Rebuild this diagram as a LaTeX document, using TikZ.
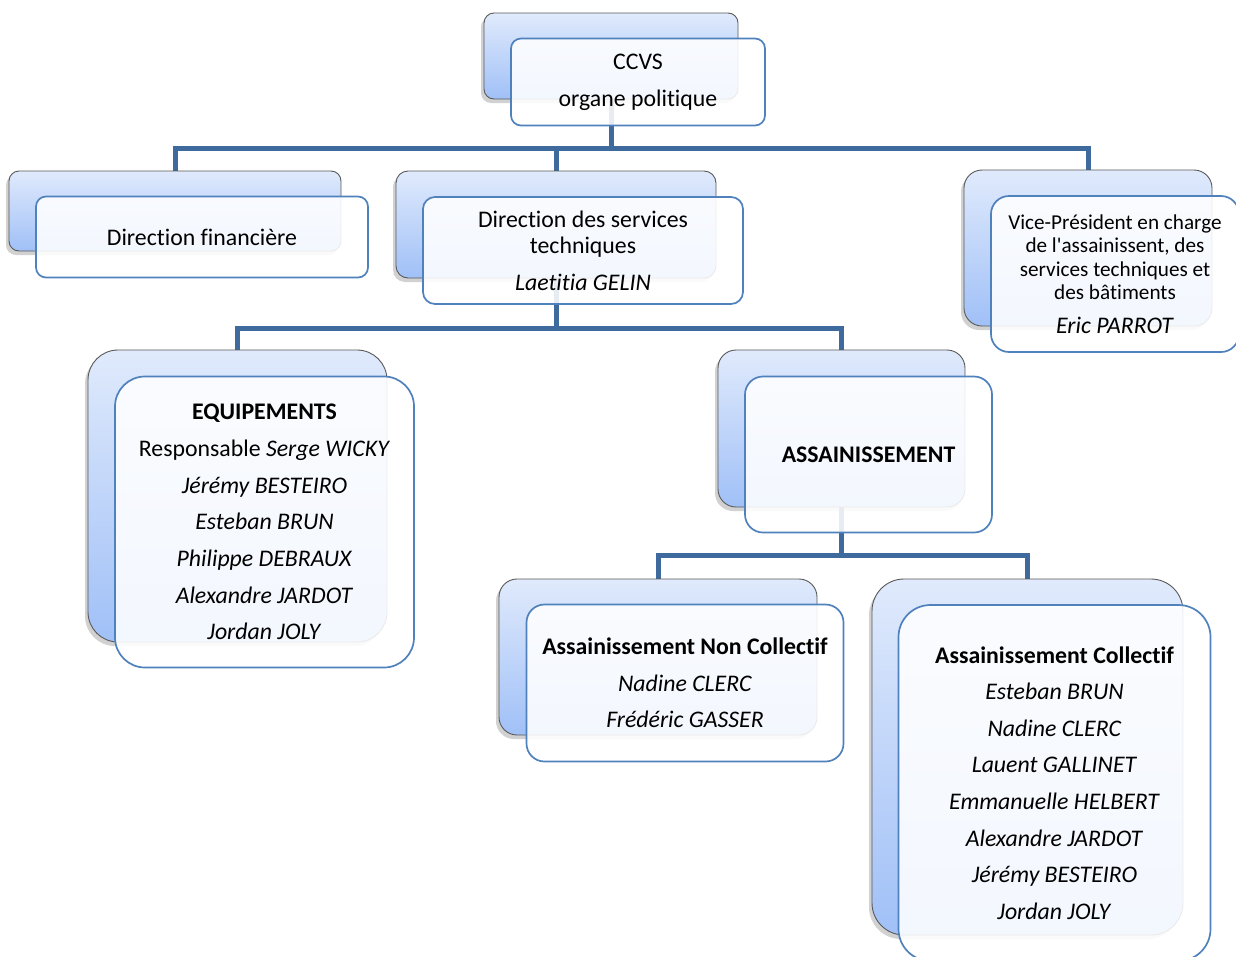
\documentclass[tikz,border=0pt]{standalone}
\usepackage{fontspec}
\setmainfont{Carlito}[Ligatures=NoCommon]
\usetikzlibrary{calc,shadows,backgrounds}

\definecolor{boxblue}{RGB}{79,129,189}
\definecolor{linkblue}{RGB}{62,106,158}
\definecolor{shadetop}{RGB}{224,234,252}
\definecolor{shadebot}{RGB}{160,192,247}

\tikzset{
  backbox/.style={draw=gray!70!black, line width=0.9, rounded corners=#1,
    top color=shadetop, bottom color=shadebot, inner sep=0, outer sep=0,
    drop shadow={shadow xshift=-3pt, shadow yshift=-4pt, opacity=0.3, fill=black!60}},
  frontbox/.style={draw=boxblue, line width=1.7, rounded corners=#1,
    fill=white, fill opacity=0.88, text opacity=1, inner sep=0, outer sep=0,
    align=center, font=\fontsize{23.8}{26}\selectfont},
  link/.style={draw=linkblue, line width=5},
}

\begin{document}
\begin{tikzpicture}[x=1pt, y=-1pt]
\useasboundingbox (0,0) rectangle (1236,956);
\pgfmathsetmacro{\DX}{27}
\pgfmathsetmacro{\DY}{26}

% level 0
\node[backbox=10, minimum width=254, minimum height=86] (ccvs-b) at (611,56) {};
\node[frontbox=10, minimum width=254, minimum height=87] (ccvs) at ($(ccvs-b)+(\DX,\DY)$)
  {CCVS\\[11pt]organe politique};

% level 1
\node[backbox=10, minimum width=332, minimum height=80] (fin-b) at (175,211) {};
\node[frontbox=10, minimum width=332, minimum height=81] (fin) at ($(fin-b)+(\DX,\DY)$)
  {Direction financière};

\node[backbox=12, minimum width=320, minimum height=107] (dst-b) at (556,224.5) {};
\node[frontbox=12, minimum width=320, minimum height=107] (dst) at ($(dst-b)+(\DX,\DY)$)
  {Direction des services\\techniques\\[11pt]\textit{Laetitia GELIN}};

\node[backbox=18, minimum width=248, minimum height=156] (vp-b) at (1088,248) {};
\node[frontbox=18, minimum width=248, minimum height=156,
  font=\fontsize{21.2}{23.5}\selectfont] (vp) at ($(vp-b)+(\DX,\DY)$)
  {Vice-Président en charge\\de l\textquotesingle assainissent, des\\services techniques et\\des bâtiments\\[10pt]{\fontsize{23.8}{26}\selectfont\textit{Eric PARROT}}};

% level 2
\node[backbox=30, minimum width=299, minimum height=292] (equ-b) at (237.5,496) {};
\node[frontbox=30, minimum width=299, minimum height=291] (equ) at ($(equ-b)+(\DX,\DY)$)
  {\textbf{EQUIPEMENTS}\\[10.7pt]Responsable \textit{Serge WICKY}\\[10.7pt]\textit{Jérémy BESTEIRO}\\[10.7pt]\textit{Esteban BRUN}\\[10.7pt]\textit{Philippe DEBRAUX}\\[10.7pt]\textit{Alexandre JARDOT}\\[10.7pt]\textit{Jordan JOLY}};

\node[backbox=18, minimum width=247, minimum height=157] (ass-b) at (841.5,428.5) {};
\node[frontbox=18, minimum width=247, minimum height=156] (ass) at ($(ass-b)+(\DX,\DY)$)
  {\textbf{ASSAINISSEMENT}};

% level 3
\node[backbox=18, minimum width=318, minimum height=156] (anc-b) at (658,657) {};
\node[frontbox=18, minimum width=317, minimum height=157] (anc) at ($(anc-b)+(\DX,\DY)$)
  {\textbf{Assainissement Non Collectif}\\[10.5pt]\textit{Nadine CLERC}\\[10.5pt]\textit{Frédéric GASSER}};

\node[backbox=32, minimum width=311, minimum height=356] (ac-b) at (1027.5,757) {};
\node[frontbox=32, minimum width=312, minimum height=356] (ac) at ($(ac-b)+(\DX,\DY)$)
  {\textbf{Assainissement Collectif}\\[10.6pt]\textit{Esteban BRUN}\\[10.6pt]\textit{Nadine CLERC}\\[10.6pt]\textit{Lauent GALLINET}\\[10.6pt]\textit{Emmanuelle HELBERT}\\[10.6pt]\textit{Alexandre JARDOT}\\[10.6pt]\textit{Jérémy BESTEIRO}\\[10.6pt]\textit{Jordan JOLY}};

% connectors
\begin{scope}[on background layer]
\coordinate (bus1) at ($(ccvs-b.south)+(0,49)$);
\draw[link] (ccvs-b.south) -- (bus1);
\draw[link] (fin-b.north) |- (bus1) -| (vp-b.north);
\draw[link] (dst-b.north) -- (dst-b.north |- bus1);

\coordinate (bus2) at ($(dst-b.south)+(0,50)$);
\draw[link] (dst-b.south) -- (bus2);
\draw[link] (equ-b.north) |- (bus2) -| (ass-b.north);

\coordinate (bus3) at ($(ass-b.south)+(0,48)$);
\draw[link] (ass-b.south) -- (bus3);
\draw[link] (anc-b.north) |- (bus3) -| (ac-b.north);
\end{scope}
\end{tikzpicture}
\end{document}
